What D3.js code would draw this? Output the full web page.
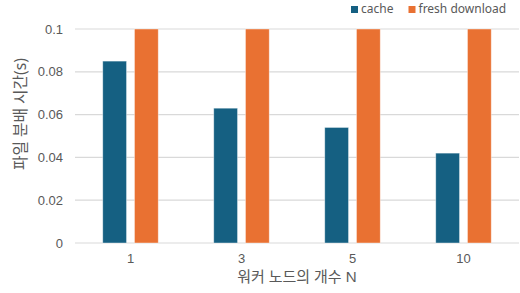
<!DOCTYPE html>
<html><head><meta charset="utf-8">
<script src="https://cdn.jsdelivr.net/npm/d3@7"></script>
<style>body{margin:0;background:#fff}svg{display:block;font-family:"Noto Sans","Noto Sans CJK KR",sans-serif}</style>
</head><body><svg id="c" width="520" height="293"></svg>
<script>
const categories = ["1","3","5","10"];
const seriesNames = ["cache","fresh download"];
const cacheValues = [0.085,0.063,0.054,0.042];
const freshValues = [0.1,0.1,0.1,0.1];
const yTicks = [0,0.02,0.04,0.06,0.08,0.1];
const yTickLabels = ["0","0.02","0.04","0.06","0.08","0.1"];
const colors = ["#156082","#E97132"];
const xTitle = "워커 노드의 개수 N";
const yTitle = "파일 분배 시간(s)";

const svg = d3.select("#c");
const m = {l:75, r:1, t:29, b:50};
const W = 520, H = 293;
const x = d3.scaleBand().domain(categories).range([m.l, W-m.r]).paddingInner(0.5).paddingOuter(0.25);
const x1 = d3.scaleBand().domain(seriesNames).range([0, x.bandwidth()]).paddingInner(0.25);
const y = d3.scaleLinear().domain([0,0.1]).range([H-m.b, m.t]);

// grid
svg.append("g").selectAll("line").data(yTicks).join("line")
  .attr("x1", m.l).attr("x2", W-m.r)
  .attr("y1", d=>y(d)).attr("y2", d=>y(d))
  .attr("stroke","#d9d9d9").attr("stroke-width",1.2);

// y tick labels
const yAxis = d3.axisLeft(y).tickValues(yTicks).tickSize(0).tickPadding(12)
  .tickFormat((d,i)=>yTickLabels[i]);
const ga = svg.append("g").attr("transform",`translate(${m.l},0)`).call(yAxis);
ga.select(".domain").remove();
ga.selectAll("text").attr("font-size",13).attr("fill","#595959").attr("font-family","inherit");

// bars
const data = categories.map((c,i)=>({c, vals:[cacheValues[i], freshValues[i]]}));
const g = svg.append("g");
data.forEach(d=>{
  g.selectAll(null).data(d.vals.map((v,j)=>({s:seriesNames[j], v, j}))).join("rect")
    .attr("x", e=>x(d.c)+x1(e.s)).attr("width", x1.bandwidth())
    .attr("y", e=>y(e.v)).attr("height", e=>y(0)-y(e.v))
    .attr("fill", e=>colors[e.j]).attr("stroke","#ffffff").attr("stroke-opacity",0.5).attr("stroke-width",0.8);
});

// x labels
const xAxis = d3.axisBottom(x).tickSize(0).tickPadding(11);
const gx = svg.append("g").attr("transform",`translate(0,${y(0)})`).call(xAxis);
gx.select(".domain").remove();
gx.selectAll("text").attr("font-size",13).attr("fill","#595959").attr("font-family","inherit");

// titles
svg.append("text").attr("x",(m.l+W-m.r)/2).attr("y",282).attr("text-anchor","middle")
  .attr("font-size",15).attr("fill","#595959").text(xTitle);
svg.append("text").attr("transform",`translate(22,114) rotate(-90)`)
  .attr("text-anchor","middle").attr("dominant-baseline","middle")
  .attr("textLength",112).attr("lengthAdjust","spacingAndGlyphs")
  .attr("font-size",16).attr("fill","#595959").text(yTitle);

// legend
const leg = [{x:351},{x:408.5}];
seriesNames.forEach((s,i)=>{
  svg.append("rect").attr("x",leg[i].x).attr("y",6).attr("width",7).attr("height",7).attr("fill",colors[i]);
  svg.append("text").attr("x",leg[i].x+10).attr("y",10).attr("dominant-baseline","middle")
    .attr("font-size",12).attr("fill","#595959").text(s);
});
</script></body></html>
